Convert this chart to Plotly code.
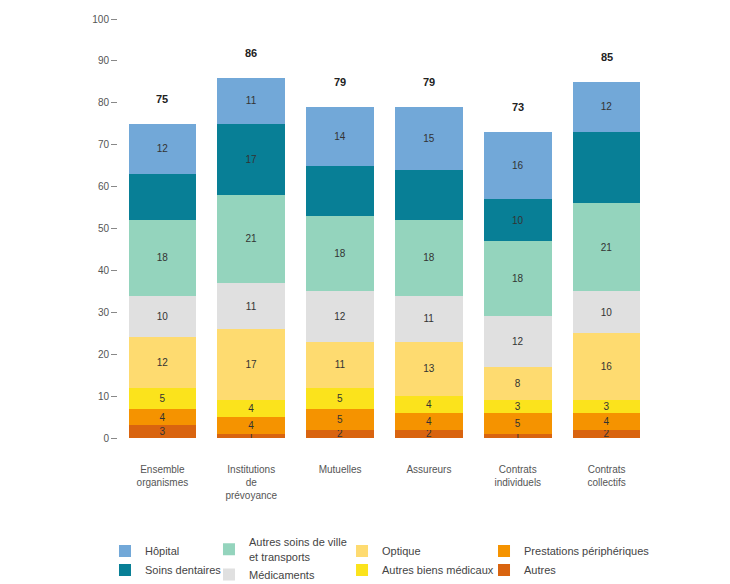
import plotly.graph_objects as go

# categories (x axis)
categories = [
    "Ensemble<br>organismes",
    "Institutions<br>de<br>prévoyance",
    "Mutuelles",
    "Assureurs",
    "Contrats<br>individuels",
    "Contrats<br>collectifs",
]

# series, bottom to top of the stack
autres = [3, 1, 2, 2, 1, 2]
prestations = [4, 4, 5, 4, 5, 4]
biens_medicaux = [5, 4, 5, 4, 3, 3]
optique = [12, 17, 11, 13, 8, 16]
medicaments = [10, 11, 12, 11, 12, 10]
soins_ville = [18, 21, 18, 18, 18, 21]
soins_dentaires = [11, 17, 12, 12, 10, 17]
hopital = [12, 11, 14, 15, 16, 12]

totals = [75, 86, 79, 79, 73, 85]

# name, values, colour, legend column, rank inside the column
series = [
    ("Autres", autres, "#d9640f", "legend4", 2),
    ("Prestations périphériques", prestations, "#f59300", "legend4", 1),
    ("Autres biens médicaux", biens_medicaux, "#fbe31c", "legend3", 2),
    ("Optique", optique, "#fedb70", "legend3", 1),
    ("Médicaments", medicaments, "#e0e0e0", "legend2", 2),
    ("Autres soins de ville<br>et transports", soins_ville, "#94d4bd", "legend2", 1),
    ("Soins dentaires", soins_dentaires, "#087f96", "legend", 2),
    ("Hôpital", hopital, "#72a8d8", "legend", 1),
]

# which teal segments carry a value label in the original
dentaires_labelled = [False, True, False, False, True, False]

fig = go.Figure()

for name, values, color, leg, rank in series:
    if name == "Soins dentaires":
        text = [str(v) if show else "" for v, show in zip(values, dentaires_labelled)]
    else:
        text = [str(v) for v in values]
    fig.add_trace(go.Bar(
        x=categories,
        y=values,
        name=name,
        marker={"color": color, "line": {"width": 0}},
        text=text,
        textposition="inside",
        insidetextanchor="middle",
        textangle=0,
        constraintext="none",
        textfont={"size": 10, "color": "#333333"},
        legend=leg,
        legendrank=rank,
        hoverinfo="skip",
    ))

# totals above each bar
for cat, total in zip(categories, totals):
    fig.add_annotation(
        x=cat, y=total, text="<b>%d</b>" % total,
        showarrow=False, yanchor="bottom", yshift=17,
        font={"size": 11, "color": "#222222"},
    )


def legend_column(x, y):
    return {
        "orientation": "v",
        "x": x,
        "xanchor": "left",
        "y": y,
        "yanchor": "top",
        "font": {"size": 11, "color": "#444444"},
        "tracegroupgap": 0,
        "traceorder": "normal",
        "bgcolor": "rgba(0,0,0,0)",
    }


fig.update_layout(
    width=730,
    height=584,
    barmode="stack",
    bargap=0.24,
    plot_bgcolor="white",
    paper_bgcolor="white",
    font={"family": "Liberation Sans, Arial, sans-serif", "size": 10, "color": "#555555"},
    margin={"l": 110, "r": 87, "t": 11, "b": 154, "autoexpand": False},
    showlegend=True,
    legend=legend_column(-0.0244, -0.235),
    legend2=legend_column(0.1707, -0.216),
    legend3=legend_column(0.4203, -0.235),
    legend4=legend_column(0.6867, -0.235),
)
fig.update_xaxes(
    showgrid=False, showline=False, ticks="",
    ticklabelstandoff=24,
    tickfont={"size": 10, "color": "#555555"},
)
fig.update_yaxes(
    range=[0, 100], dtick=10, showgrid=False, showline=False, zeroline=False,
    ticks="outside", ticklen=6, tickcolor="#888888",
    tickfont={"size": 10, "color": "#555555"},
)

fig.write_html("out.html")
